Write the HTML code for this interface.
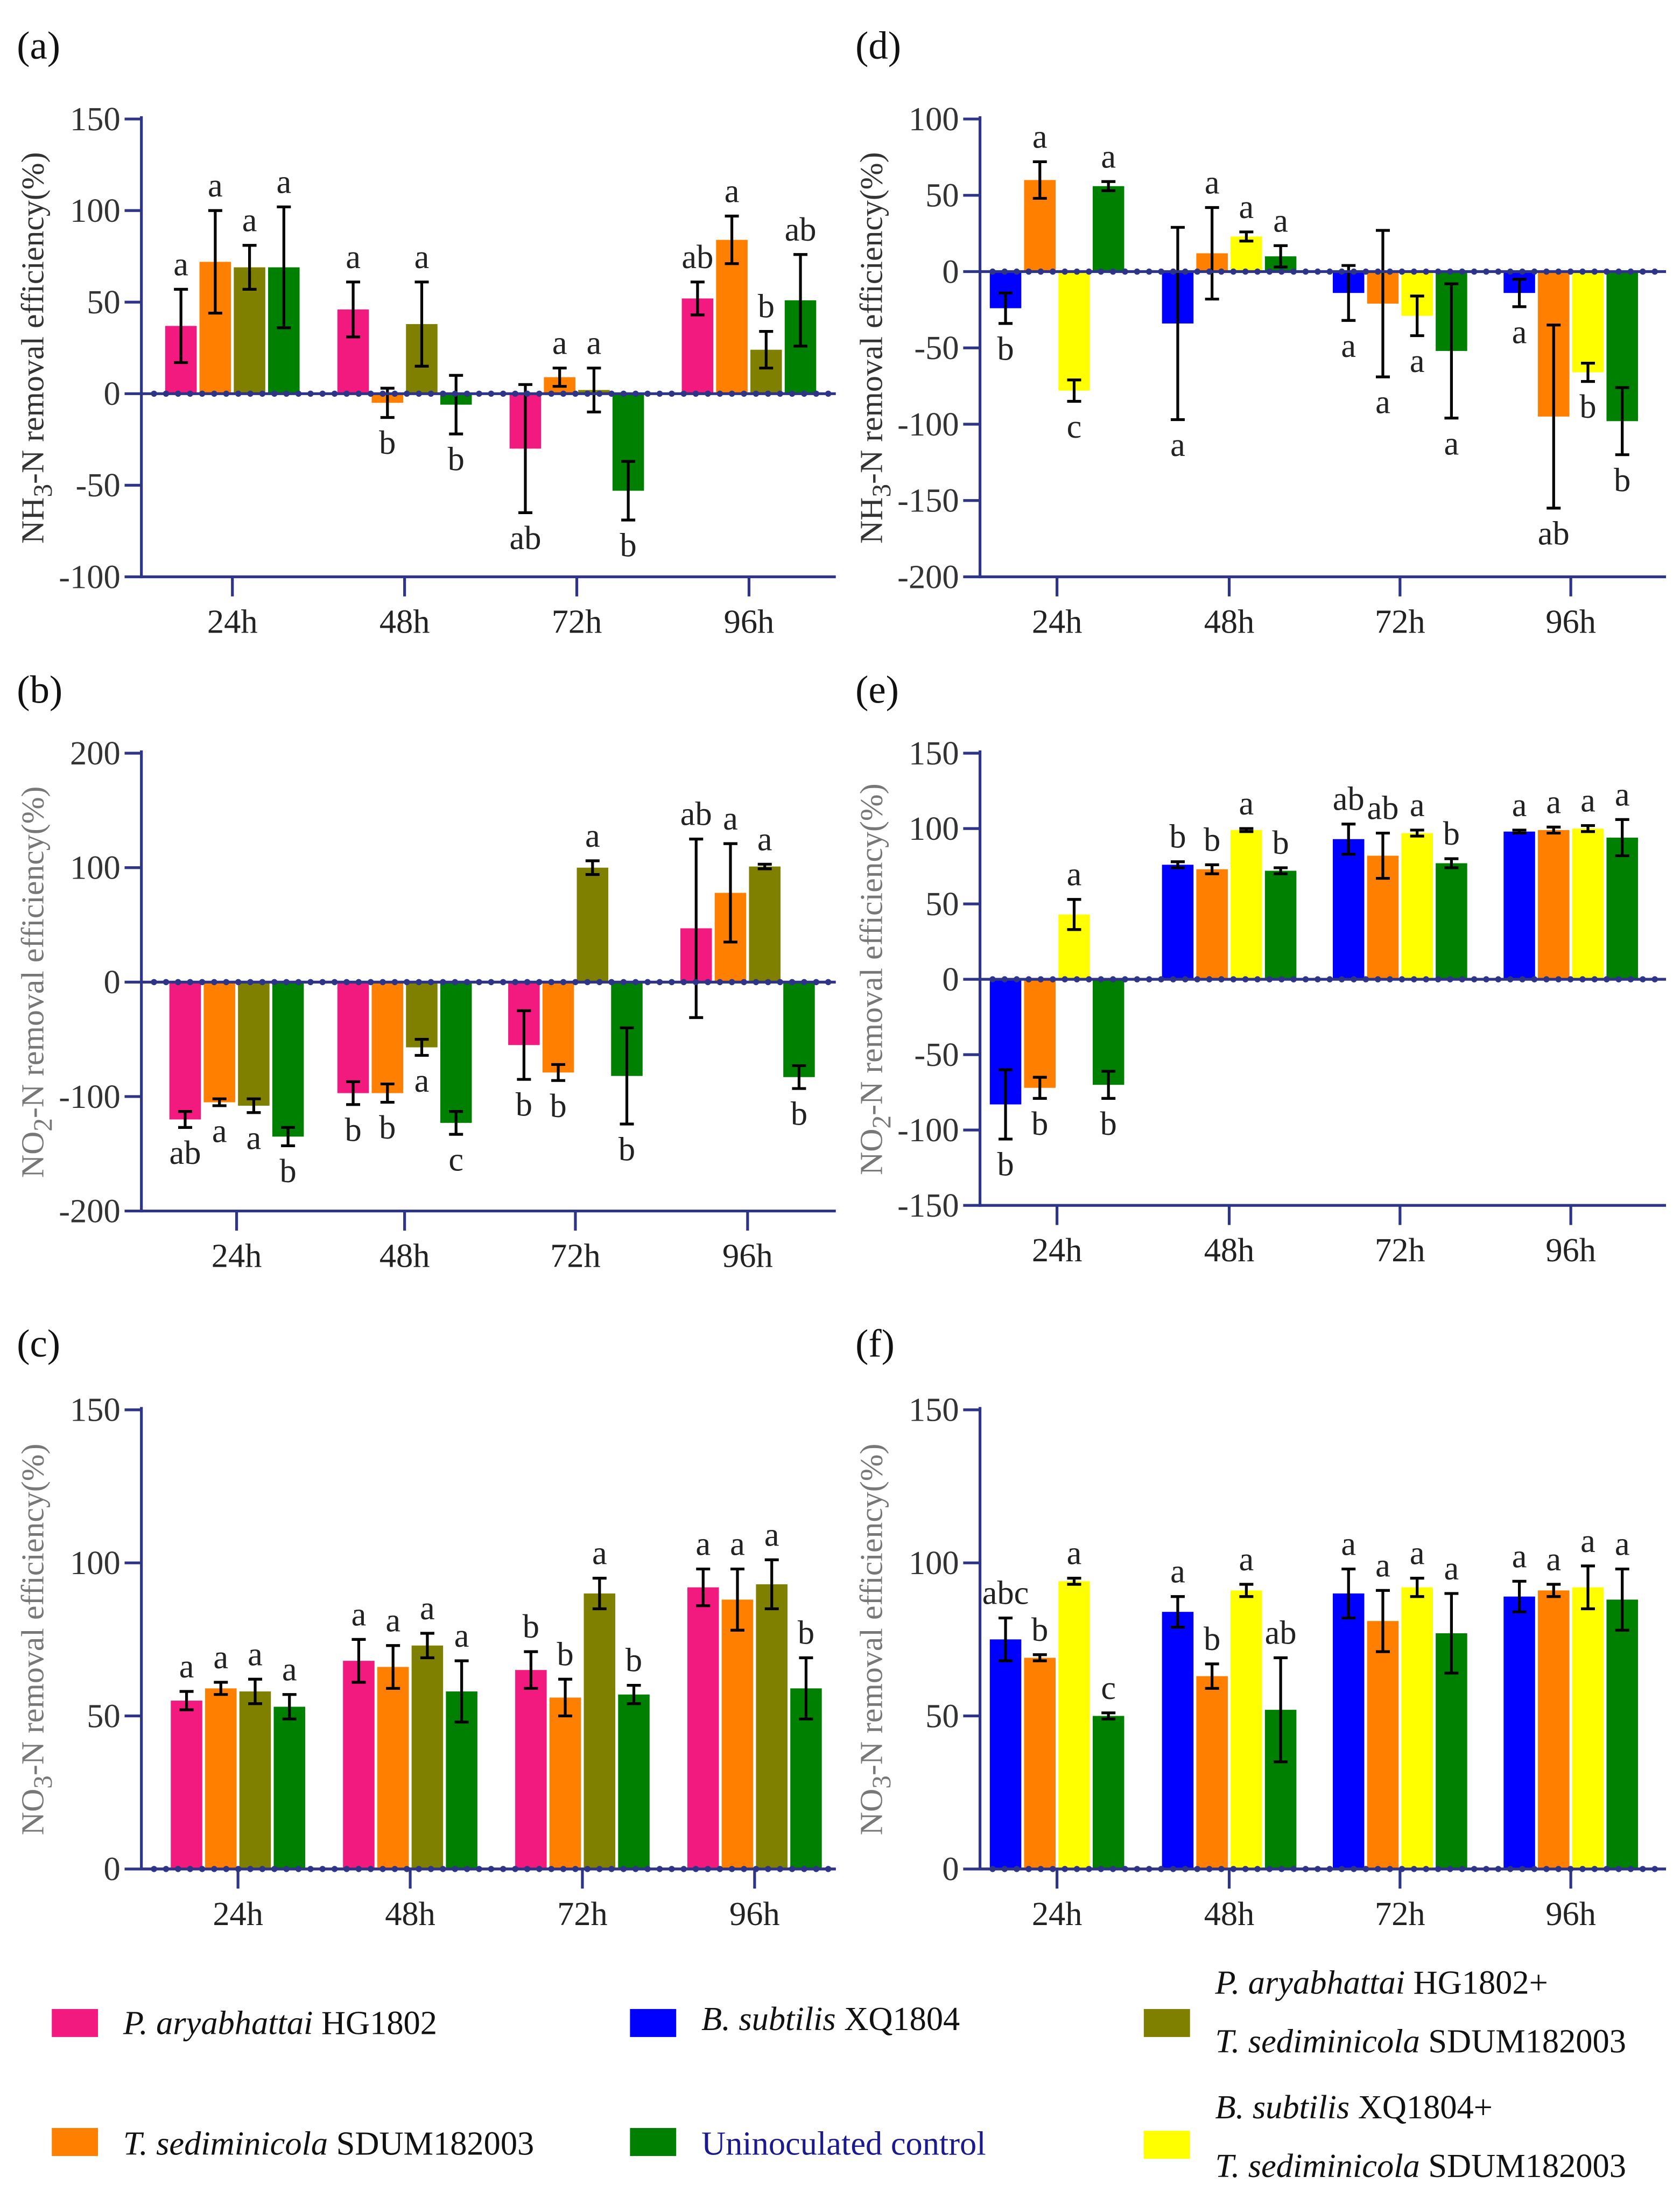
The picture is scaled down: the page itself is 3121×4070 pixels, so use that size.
<!DOCTYPE html>
<html><head><meta charset="utf-8">
<style>
html,body{margin:0;padding:0;background:#fff;}
svg{display:block;font-family:"Liberation Serif","Times New Roman",Times,"DejaVu Serif",serif;}
svg text{font-family:"Liberation Serif","Times New Roman",Times,"DejaVu Serif",serif;}
</style></head>
<body>
<svg id="fig" width="3121" height="4070" viewBox="0 0 1200 1565" preserveAspectRatio="none" xmlns="http://www.w3.org/2000/svg"></svg>
<script>
const categories = ["24h","48h","72h","96h"];
// Panel (a) NH3-N, series: P.ary, T.sed, P+T, control
const aVals = [[37,46,-30,52],[72,-5,9,84],[69,38,2,24],[69,-6,-53,51]];
const aErr  = [[20,15,35,9],[28,8,5,13],[12,23,12,10],[33,16,16,25]];
const aLet  = [["a","a","ab","ab"],["a","b","a","a"],["a","a","a","b"],["a","b","b","ab"]];
// Panel (b) NO2-N
const bVals = [[-120,-97,-55,47],[-105,-97,-79,78],[-108,-57,100,101],[-135,-123,-82,-83]];
const bErr  = [[7,10,30,78],[3,8,7,43],[6,7,6,2],[8,10,42,10]];
const bLet  = [["ab","b","b","ab"],["a","b","b","a"],["a","a","a","a"],["b","c","b","b"]];
// Panel (c) NO3-N
const cVals = [[55,68,65,92],[59,66,56,88],[58,73,90,93],[53,58,57,59]];
const cErr  = [[3,7,6,6],[2,7,6,10],[4,4,5,8],[4,10,3,10]];
const cLet  = [["a","a","b","a"],["a","a","b","a"],["a","a","a","a"],["a","a","b","b"]];
// Panel (d) NH3-N, series: B.sub, T.sed, B+T, control
const dVals = [[-24,-34,-14,-14],[60,12,-21,-95],[-78,23,-29,-66],[56,10,-52,-98]];
const dErr  = [[10,63,18,9],[12,30,48,60],[7,3,13,6],[3,7,44,22]];
const dLet  = [["b","a","a","a"],["a","a","a","ab"],["c","a","a","b"],["a","a","a","b"]];
// Panel (e) NO2-N
const eVals = [[-83,76,93,98],[-72,73,82,99],[43,99,97,100],[-70,72,77,94]];
const eErr  = [[23,2,10,1],[7,3,15,2],[10,1,2,2],[9,2,3,12]];
const eLet  = [["b","b","ab","a"],["b","b","ab","a"],["a","a","a","a"],["b","b","b","a"]];
// Panel (f) NO3-N
const fVals = [[75,84,90,89],[69,63,81,91],[94,91,92,92],[50,52,77,88]];
const fErr  = [[7,5,8,5],[1,4,10,2],[1,2,3,7],[1,17,13,10]];
const fLet  = [["abc","a","a","a"],["b","b","a","a"],["a","a","a","a"],["c","ab","a","a"]];
const yTicksA = [150,100,50,0,-50,-100];
const yTicksB = [200,100,0,-100,-200];
const yTicksC = [150,100,50,0];
const yTicksD = [100,50,0,-50,-100,-150,-200];
const yTicksE = [150,100,50,0,-50,-100,-150];
const yTicksF = [150,100,50,0];

const PINK="#f2197f",ORANGE="#ff7f00",OLIVE="#808000",GREEN="#008000",BLUE="#0000ff",YELLOW="#ffff00",NAVY="#2e3486";
const svg=document.getElementById('fig');
const NS="http://www.w3.org/2000/svg";
function mk(tag,attrs,parent){const e=document.createElementNS(NS,tag);for(const k in attrs)e.setAttribute(k,attrs[k]);(parent||svg).appendChild(e);return e;}

const panels=[
 {key:"a",lab:"(a)",ax:101,xr:597,yTop:85,yBot:412,vmax:150,vmin:-100,ticks:yTicksA,cx:[166,289,412,535],cols:[PINK,ORANGE,OLIVE,GREEN],vals:aVals,err:aErr,let:aLet,title:["NH","3","-N  removal efficiency(%)"],tcol:"#333",ly:42},
 {key:"b",lab:"(b)",ax:101,xr:597,yTop:538,yBot:865,vmax:200,vmin:-200,ticks:yTicksB,cx:[169,289,411,534],cols:[PINK,ORANGE,OLIVE,GREEN],vals:bVals,err:bErr,let:bLet,title:["NO","2","-N  removal efficiency(%)"],tcol:"#777",ly:502},
 {key:"c",lab:"(c)",ax:101,xr:597,yTop:1007,yBot:1335,vmax:150,vmin:0,ticks:yTicksC,cx:[170,293,416,539],cols:[PINK,ORANGE,OLIVE,GREEN],vals:cVals,err:cErr,let:cLet,title:["NO","3","-N  removal efficiency(%)"],tcol:"#777",ly:969},
 {key:"d",lab:"(d)",ax:700,xr:1190,yTop:85,yBot:412,vmax:100,vmin:-200,ticks:yTicksD,cx:[755,878,1000,1122],cols:[BLUE,ORANGE,YELLOW,GREEN],vals:dVals,err:dErr,let:dLet,title:["NH","3","-N  removal efficiency(%)"],tcol:"#333",ly:42},
 {key:"e",lab:"(e)",ax:700,xr:1190,yTop:538,yBot:861,vmax:150,vmin:-150,ticks:yTicksE,cx:[755,878,1000,1122],cols:[BLUE,ORANGE,YELLOW,GREEN],vals:eVals,err:eErr,let:eLet,title:["NO","2","-N  removal efficiency(%)"],tcol:"#777",ly:502},
 {key:"f",lab:"(f)",ax:700,xr:1190,yTop:1007,yBot:1335,vmax:150,vmin:0,ticks:yTicksF,cx:[755,878,1000,1122],cols:[BLUE,ORANGE,YELLOW,GREEN],vals:fVals,err:fErr,let:fLet,title:["NO","3","-N  removal efficiency(%)"],tcol:"#777",ly:969}
];

panels.forEach(p=>{
 const g=mk('g',{});
 
 
 const Y=v=>p.yBot-(v-p.vmin)/(p.vmax-p.vmin)*(p.yBot-p.yTop);
 const lab=mk('text',{x:p.ax-89,y:p.ly,'font-size':28,fill:'#111'},g);lab.textContent=p.lab;
 
 
 const t=mk('text',{transform:`translate(${p.ax-70},${(p.yTop+p.yBot)/2}) rotate(-90)`,'text-anchor':'middle','font-size':23,fill:p.tcol},g);
 
 
 const s1=mk('tspan',{},t);s1.textContent=p.title[0];
 const s2=mk('tspan',{dy:6,'font-size':19},t);s2.textContent=p.title[1];
 const s3=mk('tspan',{dy:-6},t);s3.textContent=p.title[2];
 const ya=mk('line',{x1:p.ax,y1:p.yTop-2,x2:p.ax,y2:p.yBot+1,stroke:NAVY,'stroke-width':2},g);
 
 
 const xa=mk('line',{x1:p.ax,y1:p.yBot,x2:p.xr,y2:p.yBot,stroke:NAVY,'stroke-width':2},g);
 
 
 p.ticks.forEach(v=>{
  mk('line',{x1:p.ax-12,y1:Y(v),x2:p.ax,y2:Y(v),stroke:NAVY,'stroke-width':2},g);
  const tl=mk('text',{x:p.ax-15,y:Y(v)+8,'text-anchor':'end','font-size':24,fill:'#333'},g);tl.textContent=v;
  
  
 });
 categories.forEach((c,i)=>{
  mk('line',{x1:p.cx[i],y1:p.yBot,x2:p.cx[i],y2:p.yBot+14,stroke:NAVY,'stroke-width':2},g);
  const cl=mk('text',{x:p.cx[i],y:p.yBot+40,'text-anchor':'middle','font-size':24,fill:'#222'},g);cl.textContent=c;
  
  
 });
 p.vals.forEach((ser,si)=>{
  ser.forEach((v,ci)=>{
   const x=p.cx[ci]+(si-1.5)*24.5-11.25;
   const y0=Y(0),yv=Y(v);
   const r=mk('rect',{x:x,y:Math.min(y0,yv),width:22.5,height:Math.max(1,Math.abs(yv-y0)),fill:p.cols[si]},g);
   
   
   const e=p.err[si][ci],xc=x+11.25;
   const yt=Y(v+e),yb=Y(v-e);
   const eb=mk('path',{d:`M${xc},${yt}V${yb}M${xc-5},${yt}H${xc+5}M${xc-5},${yb}H${xc+5}`,stroke:'#000','stroke-width':2,fill:'none'},g);
   
   
   const L=p.let[si][ci];
   const ly=v>=0?yt-10:yb+26;
   const lt=mk('text',{x:xc,y:ly,'text-anchor':'middle','font-size':24,fill:'#222'},g);lt.textContent=L;
   
   
  });
 });
 const y0=Y(0);
 mk('line',{x1:p.ax,y1:y0,x2:p.xr,y2:y0,stroke:NAVY,'stroke-width':2},g);
 for(let x=p.ax+9;x<p.xr-4;x+=8.6){mk('circle',{cx:x,cy:y0,r:2.2,fill:NAVY},g);}
});

const leg=[
 {c:PINK,x:37,y:1435,lines:[[["P. aryabhattai",1],[" HG1802",0]]],ty:[1453],n:"legend-p-aryabhattai"},
 {c:BLUE,x:450,y:1435,lines:[[["B. subtilis",1],[" XQ1804",0]]],ty:[1450],n:"legend-b-subtilis"},
 {c:OLIVE,x:817,y:1435,lines:[[["P. aryabhattai",1],[" HG1802+",0]],[["T. sediminicola",1],[" SDUM182003",0]]],ty:[1424,1466],n:"legend-p-plus-t"},
 {c:ORANGE,x:37,y:1520,lines:[[["T. sediminicola",1],[" SDUM182003",0]]],ty:[1539],n:"legend-t-sediminicola"},
 {c:GREEN,x:450,y:1520,lines:[[["Uninoculated control",0]]],ty:[1539],n:"legend-control",col:"#1a1a8c"},
 {c:YELLOW,x:817,y:1522,lines:[[["B. subtilis",1],[" XQ1804+",0]],[["T. sediminicola",1],[" SDUM182003",0]]],ty:[1513,1555],n:"legend-b-plus-t"}
];
leg.forEach(l=>{
 const g=mk('g',{});
 
 
 mk('rect',{x:l.x,y:l.y,width:33,height:20,fill:l.c},g);
 l.lines.forEach((ln,i)=>{
  const t=mk('text',{x:l.x+51,y:l.ty[i],'font-size':24,fill:l.col||'#111'},g);
  ln.forEach(([s,it])=>{const sp=mk('tspan',it?{'font-style':'italic'}:{},t);sp.textContent=s;});
 });
});
</script>
</body></html>
